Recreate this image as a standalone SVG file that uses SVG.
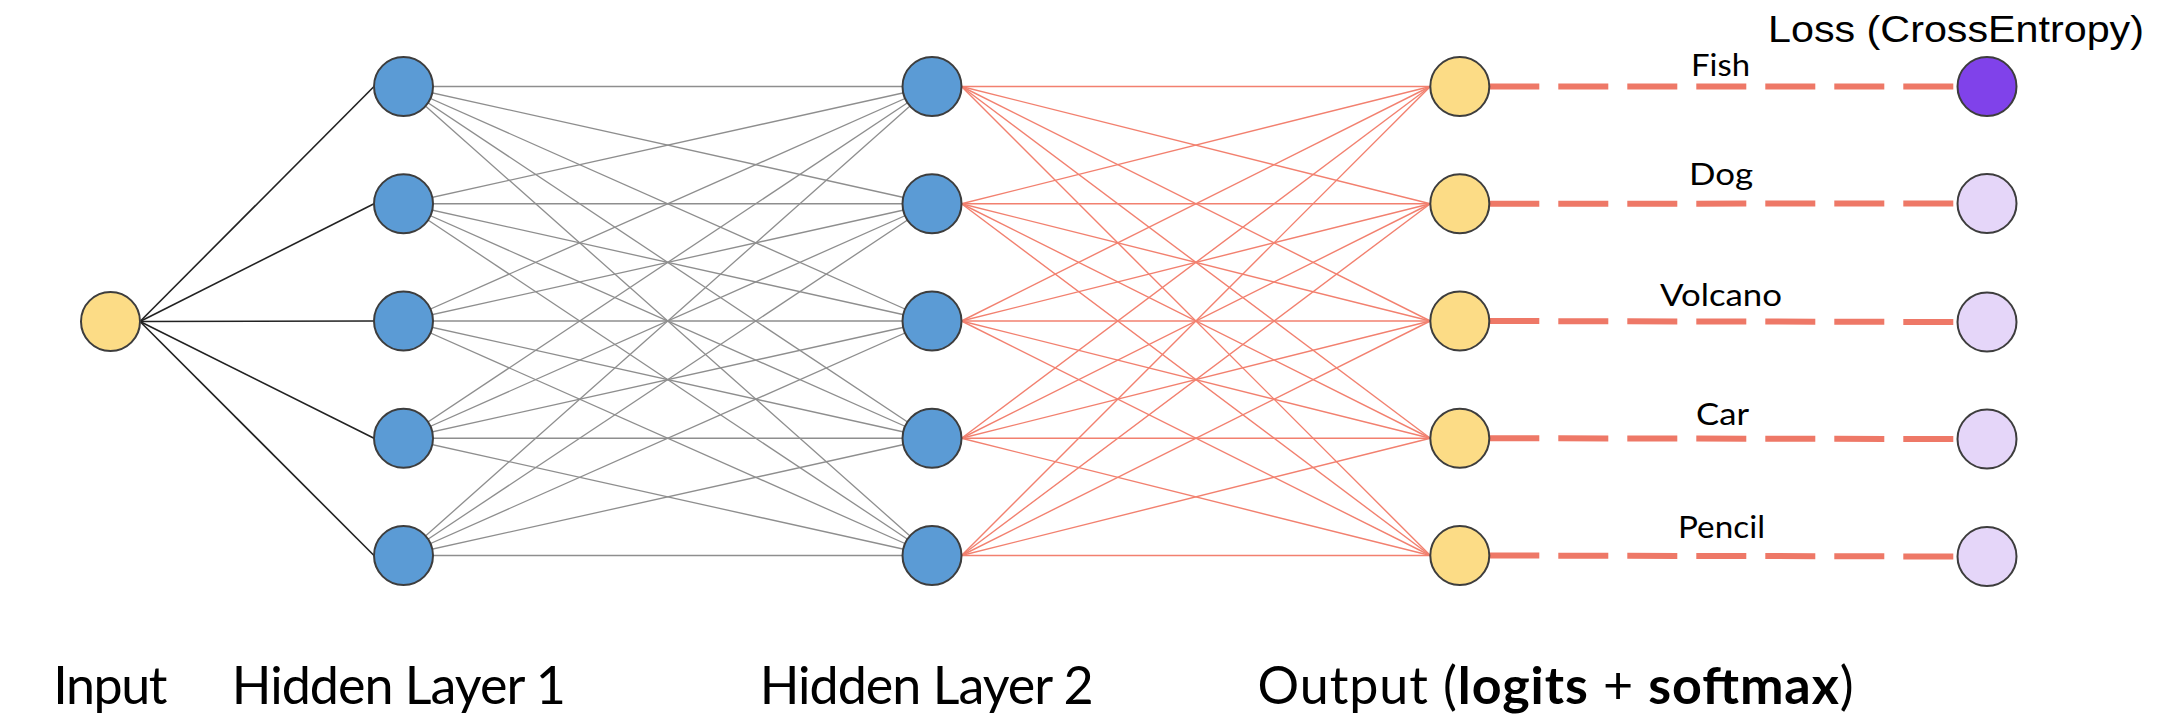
<svg xmlns="http://www.w3.org/2000/svg" width="2184" height="718" viewBox="0 0 2184 718">
<style>
.bg{fill:#ffffff}
.node{stroke:#3d3d3d;stroke-width:2}
.in{fill:#FCDC86}
.hid{fill:#5B9BD5}
.out{fill:#FCDC86}
.lossA{fill:#8042EA}
.lossB{fill:#E5D6F9}
.e0{stroke:#222222;stroke-width:1.6;fill:none}
.e1{stroke:#8e8e8e;stroke-width:1.3;fill:none}
.e2{stroke:#F2806F;stroke-width:1.4;fill:none}
.dash{stroke:#EE7867;stroke-width:6;stroke-dasharray:50 19;fill:none}
.lbl{font-family:Lato,"Open Sans","Liberation Sans",sans-serif;font-size:31px;fill:#000}
.big{font-family:Lato,"Open Sans","Liberation Sans",sans-serif;font-size:52px;fill:#000}
.loss{font-family:"Liberation Sans",Arial,sans-serif;font-size:37px;fill:#000}
</style>
<rect class="bg" x="0" y="0" width="2184" height="718"/>
<g id="connectors">
<g id="in-h1">
<line class="e0" x1="140" y1="321.5" x2="374" y2="86.5"/>
<line class="e0" x1="140" y1="321.5" x2="374" y2="203.75"/>
<line class="e0" x1="140" y1="321.5" x2="374" y2="321"/>
<line class="e0" x1="140" y1="321.5" x2="374" y2="438.25"/>
<line class="e0" x1="140" y1="321.5" x2="374" y2="555.5"/>
</g>
<g id="h1-h2">
<line class="e1" x1="403.5" y1="86.5" x2="932" y2="86.5"/>
<line class="e1" x1="403.5" y1="86.5" x2="932" y2="203.75"/>
<line class="e1" x1="403.5" y1="86.5" x2="932" y2="321"/>
<line class="e1" x1="403.5" y1="86.5" x2="932" y2="438.25"/>
<line class="e1" x1="403.5" y1="86.5" x2="932" y2="555.5"/>
<line class="e1" x1="403.5" y1="203.75" x2="932" y2="86.5"/>
<line class="e1" x1="403.5" y1="203.75" x2="932" y2="203.75"/>
<line class="e1" x1="403.5" y1="203.75" x2="932" y2="321"/>
<line class="e1" x1="403.5" y1="203.75" x2="932" y2="438.25"/>
<line class="e1" x1="403.5" y1="203.75" x2="932" y2="555.5"/>
<line class="e1" x1="403.5" y1="321" x2="932" y2="86.5"/>
<line class="e1" x1="403.5" y1="321" x2="932" y2="203.75"/>
<line class="e1" x1="403.5" y1="321" x2="932" y2="321"/>
<line class="e1" x1="403.5" y1="321" x2="932" y2="438.25"/>
<line class="e1" x1="403.5" y1="321" x2="932" y2="555.5"/>
<line class="e1" x1="403.5" y1="438.25" x2="932" y2="86.5"/>
<line class="e1" x1="403.5" y1="438.25" x2="932" y2="203.75"/>
<line class="e1" x1="403.5" y1="438.25" x2="932" y2="321"/>
<line class="e1" x1="403.5" y1="438.25" x2="932" y2="438.25"/>
<line class="e1" x1="403.5" y1="438.25" x2="932" y2="555.5"/>
<line class="e1" x1="403.5" y1="555.5" x2="932" y2="86.5"/>
<line class="e1" x1="403.5" y1="555.5" x2="932" y2="203.75"/>
<line class="e1" x1="403.5" y1="555.5" x2="932" y2="321"/>
<line class="e1" x1="403.5" y1="555.5" x2="932" y2="438.25"/>
<line class="e1" x1="403.5" y1="555.5" x2="932" y2="555.5"/>
</g>
<g id="h2-out">
<line class="e2" x1="961.5" y1="86.5" x2="1430.3" y2="86.5"/>
<line class="e2" x1="961.5" y1="86.5" x2="1430.3" y2="203.75"/>
<line class="e2" x1="961.5" y1="86.5" x2="1430.3" y2="321"/>
<line class="e2" x1="961.5" y1="86.5" x2="1430.3" y2="438.25"/>
<line class="e2" x1="961.5" y1="86.5" x2="1430.3" y2="555.5"/>
<line class="e2" x1="961.5" y1="203.75" x2="1430.3" y2="86.5"/>
<line class="e2" x1="961.5" y1="203.75" x2="1430.3" y2="203.75"/>
<line class="e2" x1="961.5" y1="203.75" x2="1430.3" y2="321"/>
<line class="e2" x1="961.5" y1="203.75" x2="1430.3" y2="438.25"/>
<line class="e2" x1="961.5" y1="203.75" x2="1430.3" y2="555.5"/>
<line class="e2" x1="961.5" y1="321" x2="1430.3" y2="86.5"/>
<line class="e2" x1="961.5" y1="321" x2="1430.3" y2="203.75"/>
<line class="e2" x1="961.5" y1="321" x2="1430.3" y2="321"/>
<line class="e2" x1="961.5" y1="321" x2="1430.3" y2="438.25"/>
<line class="e2" x1="961.5" y1="321" x2="1430.3" y2="555.5"/>
<line class="e2" x1="961.5" y1="438.25" x2="1430.3" y2="86.5"/>
<line class="e2" x1="961.5" y1="438.25" x2="1430.3" y2="203.75"/>
<line class="e2" x1="961.5" y1="438.25" x2="1430.3" y2="321"/>
<line class="e2" x1="961.5" y1="438.25" x2="1430.3" y2="438.25"/>
<line class="e2" x1="961.5" y1="438.25" x2="1430.3" y2="555.5"/>
<line class="e2" x1="961.5" y1="555.5" x2="1430.3" y2="86.5"/>
<line class="e2" x1="961.5" y1="555.5" x2="1430.3" y2="203.75"/>
<line class="e2" x1="961.5" y1="555.5" x2="1430.3" y2="321"/>
<line class="e2" x1="961.5" y1="555.5" x2="1430.3" y2="438.25"/>
<line class="e2" x1="961.5" y1="555.5" x2="1430.3" y2="555.5"/>
</g>
<g id="out-loss">
<line class="dash" x1="1489.3" y1="86.5" x2="1957.5" y2="86.5"/>
<line class="dash" x1="1489.3" y1="203.75" x2="1957.5" y2="203.5"/>
<line class="dash" x1="1489.3" y1="321" x2="1957.5" y2="322"/>
<line class="dash" x1="1489.3" y1="438.25" x2="1957.5" y2="439"/>
<line class="dash" x1="1489.3" y1="555.5" x2="1957.5" y2="556.5"/>
</g>
</g>
<g id="input"><circle class="node in" cx="110.5" cy="321.5" r="29.5"/></g>
<g id="h1-1"><circle class="node hid" cx="403.5" cy="86.5" r="29.5"/></g>
<g id="h1-2"><circle class="node hid" cx="403.5" cy="203.75" r="29.5"/></g>
<g id="h1-3"><circle class="node hid" cx="403.5" cy="321" r="29.5"/></g>
<g id="h1-4"><circle class="node hid" cx="403.5" cy="438.25" r="29.5"/></g>
<g id="h1-5"><circle class="node hid" cx="403.5" cy="555.5" r="29.5"/></g>
<g id="h2-1"><circle class="node hid" cx="932" cy="86.5" r="29.5"/></g>
<g id="h2-2"><circle class="node hid" cx="932" cy="203.75" r="29.5"/></g>
<g id="h2-3"><circle class="node hid" cx="932" cy="321" r="29.5"/></g>
<g id="h2-4"><circle class="node hid" cx="932" cy="438.25" r="29.5"/></g>
<g id="h2-5"><circle class="node hid" cx="932" cy="555.5" r="29.5"/></g>
<g id="out-1"><circle class="node out" cx="1459.8" cy="86.5" r="29.5"/></g>
<g id="out-2"><circle class="node out" cx="1459.8" cy="203.75" r="29.5"/></g>
<g id="out-3"><circle class="node out" cx="1459.8" cy="321" r="29.5"/></g>
<g id="out-4"><circle class="node out" cx="1459.8" cy="438.25" r="29.5"/></g>
<g id="out-5"><circle class="node out" cx="1459.8" cy="555.5" r="29.5"/></g>
<g id="loss-1"><circle class="node lossA" cx="1987" cy="86.5" r="29.5"/></g>
<g id="loss-2"><circle class="node lossB" cx="1987" cy="203.5" r="29.5"/></g>
<g id="loss-3"><circle class="node lossB" cx="1987" cy="322" r="29.5"/></g>
<g id="loss-4"><circle class="node lossB" cx="1987" cy="439" r="29.5"/></g>
<g id="loss-5"><circle class="node lossB" cx="1987" cy="556.5" r="29.5"/></g>
<g id="labels">
<text class="loss" x="1768" y="41.7" textLength="376" lengthAdjust="spacingAndGlyphs">Loss (CrossEntropy)</text>
<text class="lbl" x="1691" y="76" textLength="59" lengthAdjust="spacingAndGlyphs">Fish</text>
<text class="lbl" x="1689" y="185" textLength="64" lengthAdjust="spacingAndGlyphs">Dog</text>
<text class="lbl" x="1660" y="306" textLength="122" lengthAdjust="spacingAndGlyphs">Volcano</text>
<text class="lbl" x="1696" y="424.5" textLength="53" lengthAdjust="spacingAndGlyphs">Car</text>
<text class="lbl" x="1678" y="537.5" textLength="87" lengthAdjust="spacingAndGlyphs">Pencil</text>
<text class="big" x="53.2" y="704.3" textLength="114.3">Input</text>
<text class="big" x="231.8" y="704.3" textLength="334">Hidden Layer 1</text>
<text class="big" x="759.7" y="704.3" textLength="334">Hidden Layer 2</text>
<text class="big" x="1257.6" y="704.3" textLength="596">Output (<tspan font-weight="bold">logits</tspan> + <tspan font-weight="bold">softmax</tspan>)</text>
</g>
</svg>
